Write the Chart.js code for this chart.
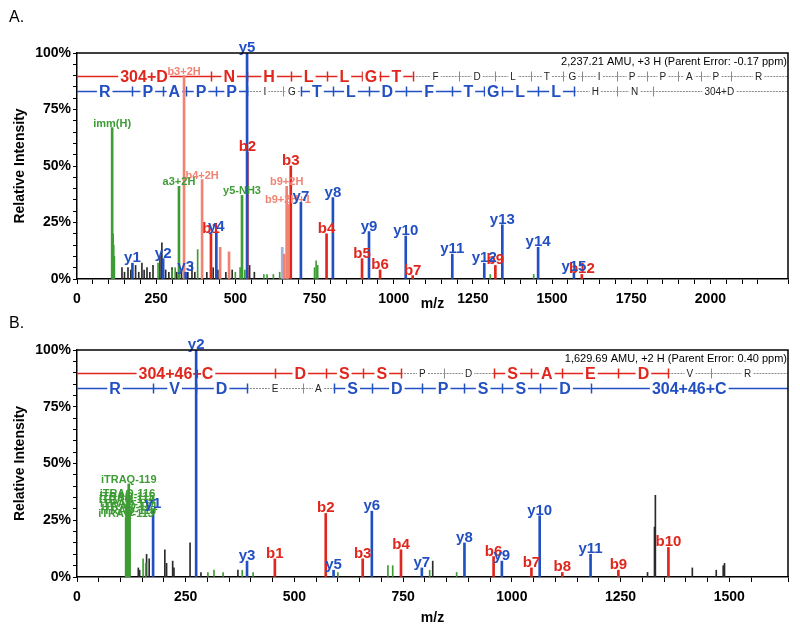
<!DOCTYPE html>
<html>
<head>
<meta charset="utf-8">
<script src="https://cdn.jsdelivr.net/npm/chart.js@4.4.1/dist/chart.umd.min.js"></script>
<style>
  body { margin: 0; background: #fff; }
  canvas { display: block; }
</style>
</head>
<body>
<canvas id="spectrumA" width="800" height="316"></canvas>
<canvas id="spectrumB" width="800" height="317"></canvas>
<script>
// ---- panel A data ----
const aXMax = 2245;
const aBMz = [423, 538, 675, 788, 900, 957, 1060, 1321, 1594];
const aBInt = [20, 56, 50, 20, 9, 4, 1.5, 6, 2];
const aBLabels = ['b1', 'b2', 'b3', 'b4', 'b5', 'b6', 'b7', 'b9', 'b12'];
const aYMz = [175, 272, 343, 440, 537, 707, 808, 922, 1038, 1185, 1286, 1343, 1456, 1569];
const aYInt = [7, 9, 3, 21, 100, 34, 36, 21, 19, 11, 7, 24, 14, 3];
const aYLabels = ['y1', 'y2', 'y3', 'y4', 'y5', 'y7', 'y8', 'y9', 'y10', 'y11', 'y12', 'y13', 'y14', 'y15'];
const aPinkMz = [338, 395, 452, 480, 654, 662, 666];
const aPinkInt = [90, 44, 14, 12, 11, 41, 33];
const aPinkLabels = ['b3+2H', 'b4+2H', '', '', '', 'b9+2H', 'b9+2H+1'];
const aGreenMz = [111, 322, 521];
const aGreenInt = [67, 41, 37];
const aGreenLabels = ['imm(H)', 'a3+2H', 'y5-NH3'];
const aGreenOtherMz = [113, 114, 116, 118, 256, 300, 310, 381, 500, 515, 530, 590, 600, 620, 640, 750, 755, 760, 1305, 1442];
const aGreenOtherInt = [18, 20, 15, 10, 7, 4, 5, 13, 3, 5, 4, 2, 2, 2, 3, 5, 8, 6, 2, 2];
const aFaintMz = [648];
const aFaintInt = [14];
const aNoiseMz = [142, 150, 161, 170, 185, 195, 205, 212, 221, 230, 240, 262, 268, 280, 290, 300, 315, 330, 350, 363, 372, 395, 410, 430, 445, 470, 490, 545, 560];
const aNoiseInt = [5, 3, 5, 4, 6, 3, 7, 4, 5, 3, 6, 10, 16, 4, 3, 5, 3, 4, 3, 6, 3, 4, 3, 5, 4, 3, 4, 6, 3];

const aRedResidues = ['304+D', 'N', 'H', 'L', 'L', 'G', 'T', 'F', 'D', 'L', 'T', 'G', 'I', 'P', 'P', 'A', 'P', 'R'];
const aRedCuts = [0, 423, 538, 675, 788, 900, 957, 1060, 1205, 1321, 1433, 1534, 1594, 1704, 1801, 1898, 1969, 2066, 2238];
const aRedSolid = [1, 1, 1, 1, 1, 1, 1, 0, 0, 0, 0, 0, 0, 0, 0, 0, 0, 0];
const aBlueResidues = ['R', 'P', 'A', 'P', 'P', 'I', 'G', 'T', 'L', 'D', 'F', 'T', 'G', 'L', 'L', 'H', 'N', '304+D'];
const aBlueCuts = [0, 175, 272, 343, 440, 537, 650, 707, 808, 922, 1038, 1185, 1286, 1343, 1456, 1569, 1704, 1818, 2238];
const aBlueSolid = [1, 1, 1, 1, 1, 0, 0, 1, 1, 1, 1, 1, 1, 1, 1, 0, 0, 0];

// ---- panel B data ----
const bXMax = 1635;
const bBMz = [455, 572, 657, 745, 958, 1045, 1116, 1245, 1360];
const bBInt = [8, 28, 8, 12, 9, 4, 2, 3, 13];
const bBLabels = ['b1', 'b2', 'b3', 'b4', 'b6', 'b7', 'b8', 'b9', 'b10'];
const bYMz = [175, 274, 391, 590, 678, 793, 891, 977, 1064, 1181];
const bYInt = [30, 100, 7, 3, 29, 4, 15, 7, 27, 10];
const bYLabels = ['y1', 'y2', 'y3', 'y5', 'y6', 'y7', 'y8', 'y9', 'y10', 'y11'];
const bItraqMz = [113, 114, 115, 116, 117, 118, 119, 121];
const bItraqInt = [26, 32, 33.5, 35, 30.5, 27.5, 41, 29];
const bItraqLabels = ['iTRAQ-113', 'iTRAQ-114', 'iTRAQ-115', 'iTRAQ-116', 'iTRAQ-117', 'iTRAQ-118', 'iTRAQ-119', 'iTRAQ-121'];
const bGreenOtherMz = [152, 158, 301, 315, 336, 380, 405, 600, 715, 726, 811, 873];
const bGreenOtherInt = [8, 6, 2, 3, 2, 3, 2, 2, 5, 5, 3, 2];
const bNoiseMz = [141, 144, 160, 166, 202, 206, 220, 223, 260, 285, 370, 818, 1312, 1328, 1330, 1415, 1470, 1486, 1489];
const bNoiseInt = [4, 3, 10, 8, 12, 6, 7, 4, 15, 2, 3, 7, 2, 22, 36, 4, 3, 5, 6];

const bRedResidues = ['304+46+C', 'D', 'S', 'S', 'P', 'D', 'S', 'A', 'E', 'D', 'V', 'R'];
const bRedCuts = [0, 455, 572, 657, 745, 843, 958, 1045, 1116, 1245, 1360, 1459, 1625];
const bRedSolid = [1, 1, 1, 1, 0, 0, 1, 1, 1, 1, 0, 0];
const bBlueResidues = ['R', 'V', 'D', 'E', 'A', 'S', 'D', 'P', 'S', 'S', 'D', '304+46+C'];
const bBlueCuts = [0, 175, 274, 391, 520, 590, 678, 793, 891, 977, 1064, 1181, 1635];
const bBlueSolid = [1, 1, 1, 0, 0, 1, 1, 1, 1, 1, 1, 1];

const FONT = '"Liberation Sans", Arial, sans-serif';
const RED = '#e0261d';
const BLUE = '#2250c2';
const GREEN = '#3e9c34';
const PINK = '#f28272';
const NOISE = '#2b2b2b';

function bars(mz, inten, color, width, order, labels, labelFont) {
    return {
        data: mz.map((m, i) => ({x: m, y: inten[i]})),
        backgroundColor: color,
        borderWidth: 0,
        barThickness: width,
        grouped: false,
        order: order,
        peakLabels: labels,
        labelFont: labelFont
    };
}

// text over each labelled peak
const peakLabelPlugin = {
    id: 'peakLabels',
    afterDatasetsDraw(chart) {
        const ctx = chart.ctx;
        chart.data.datasets.forEach((ds, i) => {
            if (!ds.peakLabels) return;
            const meta = chart.getDatasetMeta(i);
            ctx.save();
            ctx.font = ds.labelFont;
            ctx.fillStyle = ds.backgroundColor;
            ctx.textAlign = 'center';
            meta.data.forEach((bar, j) => {
                const t = ds.peakLabels[j];
                if (t) ctx.fillText(t, bar.x, bar.y - 1);
            });
            ctx.restore();
        });
    }
};

// sequence ladders at the top of the plot, under the peaks
const ladderPlugin = {
    id: 'ladder',
    beforeDatasetsDraw(chart, args, opts) {
        const {ctx, chartArea: area, scales: {x, y}} = chart;
        (opts.rows || []).forEach(row => {
            const py = Math.round(y.getPixelForValue(row.level)) + 0.5;
            const px = v => x.getPixelForValue(v);
            const n = row.residues.length;
            ctx.save();
            const seg = (a, b, solid) => {
                ctx.beginPath();
                if (solid) {
                    ctx.strokeStyle = row.color;
                    ctx.lineWidth = 1.5;
                    ctx.setLineDash([]);
                } else {
                    ctx.strokeStyle = '#8a8a8a';
                    ctx.lineWidth = 1;
                    ctx.setLineDash([2, 1]);
                }
                ctx.moveTo(a, py);
                ctx.lineTo(b, py);
                ctx.stroke();
            };
            for (let k = 0; k < n; k++) {
                seg(Math.max(px(row.cuts[k]), area.left), px(row.cuts[k + 1]), row.solid[k]);
            }
            if (px(row.cuts[n]) < area.right) seg(px(row.cuts[n]), area.right, row.solid[n - 1]);
            ctx.setLineDash([]);
            for (let k = 1; k < n; k++) {
                const solid = row.solid[k - 1] || row.solid[k];
                ctx.strokeStyle = solid ? row.color : '#8a8a8a';
                ctx.lineWidth = solid ? 1.5 : 1;
                const tx = Math.round(px(row.cuts[k])) + 0.5;
                ctx.beginPath();
                ctx.moveTo(tx, py - 5);
                ctx.lineTo(tx, py + 5);
                ctx.stroke();
            }
            ctx.textAlign = 'center';
            ctx.textBaseline = 'middle';
            for (let k = 0; k < n; k++) {
                const solid = row.solid[k];
                const cx = (px(row.cuts[k]) + px(row.cuts[k + 1])) / 2;
                ctx.font = solid ? 'bold 16px ' + FONT : '10px ' + FONT;
                const w = ctx.measureText(row.residues[k]).width;
                const h = solid ? 14 : 9;
                ctx.fillStyle = '#fff';
                ctx.fillRect(cx - w / 2 - 2, py - h / 2, w + 4, h);
                ctx.fillStyle = solid ? row.color : '#222';
                ctx.fillText(row.residues[k], cx, py + 1);
            }
            ctx.restore();
        });
    }
};

// frame, titles, panel letter and parent info
const decorPlugin = {
    id: 'decor',
    afterDraw(chart, args, opts) {
        const {ctx, chartArea: area} = chart;
        ctx.save();
        ctx.strokeStyle = '#000';
        ctx.lineWidth = 1.5;
        ctx.beginPath();
        ctx.moveTo(area.left, area.top);
        ctx.lineTo(area.right, area.top);
        ctx.lineTo(area.right, area.bottom);
        ctx.stroke();
        ctx.fillStyle = '#000';
        ctx.font = '16px ' + FONT;
        ctx.textAlign = 'left';
        ctx.fillText(opts.panel, 9, opts.panelY);
        ctx.font = '11px ' + FONT;
        ctx.textAlign = 'right';
        ctx.fillText(opts.header, area.right - 1, area.top + 12);
        ctx.font = 'bold 14px ' + FONT;
        ctx.textAlign = 'center';
        ctx.fillText('m/z', (area.left + area.right) / 2, opts.xTitleY);
        ctx.translate(24, (area.top + area.bottom) / 2);
        ctx.rotate(-Math.PI / 2);
        ctx.fillText('Relative Intensity', 0, 0);
        ctx.restore();
    }
};

function spectrumOptions(xMax, top, xHeight, ladderRows, decor) {
    return {
        responsive: false,
        animation: false,
        layout: {padding: {top: top, right: 12, left: 0, bottom: 0}},
        scales: {
            x: {
                type: 'linear',
                min: 0,
                max: xMax,
                offset: false,
                grid: {display: true, drawOnChartArea: false, offset: false, tickLength: 5, color: '#000'},
                border: {display: true, color: '#000', width: 1.5},
                ticks: {
                    stepSize: 50,
                    autoSkip: false,
                    maxRotation: 0,
                    padding: 7,
                    color: '#000',
                    font: {family: FONT, size: 14, weight: 'bold'},
                    callback: v => (v % 250 === 0 ? v : '')
                },
                afterFit: s => { s.height = xHeight; }
            },
            y: {
                min: 0,
                max: 100,
                grid: {display: true, drawOnChartArea: false, tickLength: 4, color: '#000'},
                border: {display: true, color: '#000', width: 1.5},
                ticks: {
                    stepSize: 5,
                    autoSkip: false,
                    padding: 2,
                    color: '#000',
                    font: {family: FONT, size: 14, weight: 'bold'},
                    callback: v => (v % 25 === 0 ? v + '%' : '')
                },
                afterFit: s => { s.width = 77; }
            }
        },
        plugins: {
            legend: {display: false},
            tooltip: {enabled: false},
            ladder: {rows: ladderRows},
            decor: decor
        }
    };
}

const bigLabel = 'bold 15px ' + FONT;
const smallLabel = 'bold 11px ' + FONT;

const spectrumA = new Chart(document.getElementById('spectrumA'), {
    type: 'bar',
    data: {
        datasets: [
            bars(aNoiseMz, aNoiseInt, NOISE, 1, 9),
            bars(aGreenOtherMz, aGreenOtherInt, GREEN, 1, 8),
            bars(aFaintMz, aFaintInt, '#9fb4dd', 2, 7),
            bars(aPinkMz, aPinkInt, PINK, 2, 6, aPinkLabels, smallLabel),
            bars(aGreenMz, aGreenInt, GREEN, 2, 5, aGreenLabels, smallLabel),
            bars(aBMz, aBInt, RED, 2, 4, aBLabels, bigLabel),
            bars(aYMz, aYInt, BLUE, 2, 3, aYLabels, bigLabel)
        ]
    },
    options: spectrumOptions(aXMax, 53, 37, [
        {level: 90, color: RED, residues: aRedResidues, cuts: aRedCuts, solid: aRedSolid},
        {level: 83.3, color: BLUE, residues: aBlueResidues, cuts: aBlueCuts, solid: aBlueSolid}
    ], {panel: 'A.', panelY: 22, header: '2,237.21 AMU, +3 H (Parent Error: -0.17 ppm)', xTitleY: 308}),
    plugins: [ladderPlugin, peakLabelPlugin, decorPlugin]
});

const spectrumB = new Chart(document.getElementById('spectrumB'), {
    type: 'bar',
    data: {
        datasets: [
            bars(bNoiseMz, bNoiseInt, NOISE, 1, 9),
            bars(bGreenOtherMz, bGreenOtherInt, GREEN, 1, 8),
            bars(bItraqMz, bItraqInt, GREEN, 2, 5, bItraqLabels, smallLabel),
            bars(bBMz, bBInt, RED, 2, 4, bBLabels, bigLabel),
            bars(bYMz, bYInt, BLUE, 2, 3, bYLabels, bigLabel)
        ]
    },
    options: spectrumOptions(bXMax, 34, 56, [
        {level: 90, color: RED, residues: bRedResidues, cuts: bRedCuts, solid: bRedSolid},
        {level: 83.3, color: BLUE, residues: bBlueResidues, cuts: bBlueCuts, solid: bBlueSolid}
    ], {panel: 'B.', panelY: 12, header: '1,629.69 AMU, +2 H (Parent Error: 0.40 ppm)', xTitleY: 306}),
    plugins: [ladderPlugin, peakLabelPlugin, decorPlugin]
});
</script>
</body>
</html>
